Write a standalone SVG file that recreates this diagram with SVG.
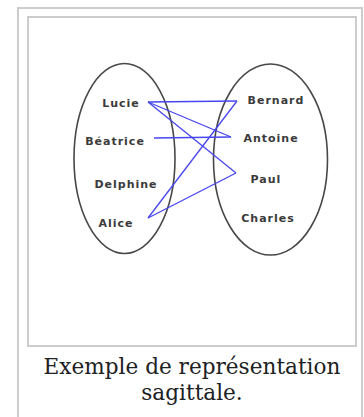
<svg xmlns="http://www.w3.org/2000/svg" width="364" height="417" viewBox="0 0 364 417">
<style>
.frame{fill:none;stroke:#cccccc;stroke-width:2}
.set{fill:none;stroke:#484848;stroke-width:1.6}
.lbl{font-family:"DejaVu Sans",sans-serif;font-size:11px;letter-spacing:1px;fill:#3a3a3a;text-anchor:middle;font-weight:bold}
.edge{stroke:#4646f0;stroke-width:1.3;fill:none}
.cap{font-family:"DejaVu Serif",serif;font-size:21.6px;fill:#202122;text-anchor:middle}
</style>
<rect width="364" height="417" fill="#ffffff"/>
<rect class="frame" x="18" y="8" width="344" height="420"/>
<rect class="frame" x="28" y="17" width="328" height="329"/>
<g id="setA"><ellipse class="set" cx="124.5" cy="158.5" rx="50.5" ry="95"/></g>
<g id="setB"><ellipse class="set" cx="270.5" cy="159.5" rx="57" ry="95.5"/></g>
<g id="edges">
<line class="edge" x1="148" y1="102" x2="237" y2="101"/>
<line class="edge" x1="148" y1="102" x2="231" y2="137"/>
<line class="edge" x1="148" y1="102" x2="236" y2="173"/>
<line class="edge" x1="154" y1="138" x2="231" y2="137"/>
<line class="edge" x1="148" y1="218" x2="237" y2="101"/>
<line class="edge" x1="148" y1="218" x2="236" y2="173"/>
</g>
<g id="Lucie"><text class="lbl" x="121" y="107">Lucie</text></g>
<g id="Beatrice"><text class="lbl" x="115" y="145">Béatrice</text></g>
<g id="Delphine"><text class="lbl" x="126" y="188">Delphine</text></g>
<g id="Alice"><text class="lbl" x="116" y="227">Alice</text></g>
<g id="Bernard"><text class="lbl" x="276" y="104">Bernard</text></g>
<g id="Antoine"><text class="lbl" x="271" y="142">Antoine</text></g>
<g id="Paul"><text class="lbl" x="266" y="183">Paul</text></g>
<g id="Charles"><text class="lbl" x="268" y="222">Charles</text></g>
<g id="caption">
<text class="cap" x="192" y="374">Exemple de représentation</text>
<text class="cap" x="192" y="400">sagittale.</text>
</g>
</svg>
